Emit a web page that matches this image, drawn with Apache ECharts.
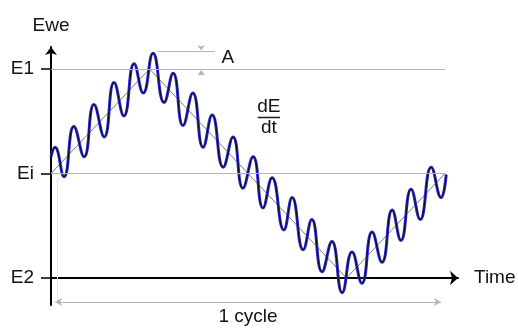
<!DOCTYPE html>
<html>
<head>
<meta charset="utf-8">
<script src="https://cdn.jsdelivr.net/npm/echarts@6/dist/echarts.min.js"></script>
<style>
html,body{margin:0;padding:0;background:#fff;}
#chart{width:518px;height:333px;}
</style>
</head>
<body>
<div id="chart"></div>
<script>
// Time in % of one cycle, potential with E2 = 0, Ei = 1, E1 = 2
const waveTime = [0, 1.0, 3.3, 5.8, 8.4, 10.9, 13.5, 16.0, 18.5, 21.1, 23.4, 25.9, 28.7, 31.0, 33.5, 36.0, 38.6, 40.9, 43.7, 46.2, 48.7, 51.3, 53.8, 56.1, 59.1, 61.2, 64.0, 66.2, 68.8, 71.3, 73.9, 76.4, 78.9, 81.5, 84.0, 86.6, 88.8, 91.4, 93.7, 96.5, 99.0, 100.3];
const wavePotential = [1.16, 1.25, 0.97, 1.45, 1.16, 1.66, 1.35, 1.87, 1.55, 2.05, 1.77, 2.15, 1.68, 1.96, 1.46, 1.77, 1.25, 1.56, 1.06, 1.35, 0.86, 1.16, 0.67, 0.96, 0.46, 0.77, 0.27, 0.56, 0.06, 0.35, -0.14, 0.25, -0.05, 0.44, 0.15, 0.65, 0.36, 0.85, 0.56, 1.06, 0.77, 0.99];
const rampTime = [0, 25, 75, 100];
const rampPotential = [1, 2, 0, 1];
const yTickValues = [0, 1, 2];
const yTickLabels = ['E2', 'Ei', 'E1'];
const xTickValues = [0];
const xTickLabels = ['0'];
const levelE1 = 2, levelEi = 1, rippleTop = 2.17;
const cycleStart = 0, cycleEnd = 100;

const zip = (a, b) => a.map((v, i) => [v, b[i]]);
const gray = '#b4b4b4';
const txt = {color: '#111', fontSize: 19, fontFamily: 'Liberation Sans, Arial, sans-serif'};

const chart = echarts.init(document.getElementById('chart'), null, {renderer: 'canvas'});
chart.setOption({
  animation: false,
  backgroundColor: '#fff',
  grid: {left: 51, right: 60, top: 47, bottom: 28, containLabel: false, outerBoundsMode: 'none'},
  xAxis: {
    type: 'value', min: 0, max: 103.3,
    name: 'Time', nameLocation: 'end', nameGap: 16, nameTextStyle: txt,
    axisLine: {show: true, onZero: true, symbol: ['none', 'arrow'], symbolSize: [11, 8], lineStyle: {color: '#000', width: 2}},
    axisTick: {show: false},
    splitLine: {show: false},
    axisLabel: Object.assign({customValues: xTickValues, margin: 33,
      formatter: v => xTickLabels[xTickValues.indexOf(v)] ?? ''}, txt)
  },
  yAxis: {
    type: 'value', min: -0.258, max: 2.21,
    name: 'Ewe', nameLocation: 'end', nameGap: 12, nameTextStyle: Object.assign({align: 'center'}, txt),
    axisLine: {show: true, onZero: false, symbol: ['none', 'arrow'], symbolSize: [9, 8], lineStyle: {color: '#000', width: 2}},
    axisTick: {show: true, inside: false, length: 10, customValues: yTickValues, lineStyle: {color: '#000', width: 1.5}},
    splitLine: {show: false},
    axisLabel: Object.assign({customValues: yTickValues, margin: 17,
      formatter: v => yTickLabels[yTickValues.indexOf(v)] ?? ''}, txt)
  },
  series: [
    {
      type: 'line', data: zip(rampTime, rampPotential), symbol: 'none', silent: true, clip: false,
      lineStyle: {color: '#7a7a7a', width: 1}, z: 2,
      markLine: {
        silent: true, symbol: ['none', 'none'], animation: false,
        lineStyle: {color: gray, width: 1.2, type: 'solid'},
        label: {show: false},
        data: [
          [{coord: [cycleStart, levelE1]}, {coord: [cycleEnd, levelE1]}],
          [{coord: [cycleStart, levelEi]}, {coord: [cycleEnd, levelEi]}],
          [{coord: [27.2, rippleTop]}, {coord: [41.6, rippleTop]}],
          [{coord: [38.1, 2.21]}, {coord: [38.1, 2.18], symbol: 'arrow', symbolSize: [6, 5]}],
          [{coord: [cycleEnd, -0.26]}, {coord: [cycleEnd, 2.21], symbol: 'arrow', symbolSize: [6, 5]}],
          [{coord: [1.5, -0.24], lineStyle: {color: '#e6e6e6', width: 1}}, {coord: [1.5, 0.95]}],
          [{coord: [1, -0.23], symbol: 'arrow', symbolSize: [6, 7], name: '1 cycle',
            label: Object.assign({show: true, position: 'insideMiddleBottom', distance: 5, formatter: '1 cycle'}, txt)},
           {coord: [99, -0.23], symbol: 'arrow', symbolSize: [6, 7]}],
          [{coord: [52.5, 1.54], lineStyle: {color: '#222', width: 1.3},
            label: Object.assign({show: true, position: 'insideMiddleTop', distance: 1, formatter: 'dE'}, txt)},
           {coord: [58.1, 1.54]}],
          [{coord: [52.5, 1.54], lineStyle: {color: '#222', width: 1.3},
            label: Object.assign({show: true, position: 'insideMiddleBottom', distance: 1, formatter: 'dt'}, txt)},
           {coord: [58.1, 1.54]}]
        ]
      },
      markPoint: {
        silent: true, animation: false,
        data: [
          {coord: [44.9, 2.105], symbol: 'circle', symbolSize: 1, itemStyle: {color: 'rgba(0,0,0,0)'},
           label: Object.assign({show: true, position: 'inside', formatter: 'A'}, txt)},
          {coord: [38.1, 1.965], symbol: 'triangle', symbolSize: [7, 5], itemStyle: {color: gray}, label: {show: false}}
        ]
      }
    },
    {
      type: 'line', data: zip(waveTime, wavePotential), symbol: 'none', smooth: 0.5, silent: true, clip: false,
      lineStyle: {color: '#2b2bd6', width: 3}, z: 3
    },
    {
      type: 'line', data: zip(waveTime, wavePotential), symbol: 'none', smooth: 0.5, silent: true, clip: false,
      lineStyle: {color: '#111', width: 1.1}, z: 4
    }
  ]
});
</script>
</body>
</html>
